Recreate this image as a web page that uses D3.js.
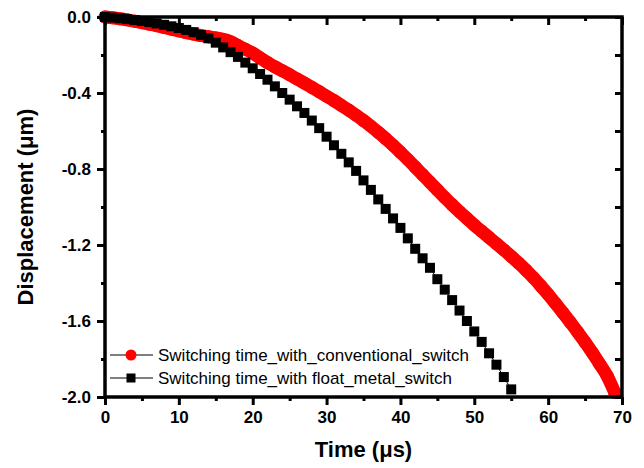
<!DOCTYPE html>
<meta charset="utf-8">
<style>
body { margin: 0; background: #fff; }
text { font-family: Arial, "Liberation Sans", sans-serif; fill: #000; }
.tick-label { font-size: 17px; font-weight: bold; }
.axis-title { font-size: 22px; font-weight: bold; }
.legend text { font-size: 17px; }
</style>
<svg id="chart" width="644" height="468"></svg>
<script src="https://d3js.org/d3.v7.min.js"></script>
<script>

// time in microseconds
var timeConv  = d3.range(0, 70);   // 0..69
var timeFloat = d3.range(0, 56);   // 0..55

// displacement (um)
var dispConv = [
  0, -0.004, -0.009, -0.015, -0.022, -0.03, -0.038, -0.046, -0.055, -0.064,
  -0.073, -0.082, -0.09, -0.098, -0.104, -0.11, -0.118, -0.13, -0.15, -0.17,
  -0.19, -0.215, -0.24, -0.262, -0.283, -0.304, -0.326, -0.348, -0.37, -0.393,
  -0.417, -0.44, -0.465, -0.49, -0.517, -0.545, -0.575, -0.607, -0.64, -0.675,
  -0.712, -0.75, -0.79, -0.83, -0.87, -0.91, -0.95, -0.988, -1.025, -1.06,
  -1.095, -1.128, -1.16, -1.193, -1.226, -1.26, -1.295, -1.332, -1.372, -1.415,
  -1.46, -1.508, -1.557, -1.607, -1.658, -1.712, -1.768, -1.828, -1.89, -1.975
];
var dispFloat = [
  0, -0.003, -0.007, -0.011, -0.016, -0.021, -0.027, -0.034, -0.041, -0.049,
  -0.058, -0.068, -0.08, -0.095, -0.112, -0.135, -0.16, -0.185, -0.21, -0.24,
  -0.27, -0.3, -0.33, -0.365, -0.4, -0.435, -0.47, -0.505, -0.545, -0.585,
  -0.63, -0.675, -0.72, -0.765, -0.81, -0.86, -0.91, -0.96, -1.01, -1.06,
  -1.11, -1.165, -1.22, -1.27, -1.32, -1.38, -1.435, -1.49, -1.545, -1.6,
  -1.655, -1.71, -1.77, -1.83, -1.895, -1.96
];

var xTicks = [0, 10, 20, 30, 40, 50, 60, 70];
var yTicks = [0, -0.4, -0.8, -1.2, -1.6, -2.0];
var legendLabels = ["Switching time_with_conventional_switch", "Switching time_with float_metal_switch"];

var svg = d3.select("#chart"),
    pL = 105, pR = 622, pT = 17, pB = 397;

var x = d3.scaleLinear().domain([0, 70]).range([pL, pR]);
var y = d3.scaleLinear().domain([0, -2]).range([pT, pB]);

var conv = timeConv.map(function(t, i) { return [t, dispConv[i]]; });
var flt = timeFloat.map(function(t, i) { return [t, dispFloat[i]]; });

var line = d3.line()
    .x(function(d) { return x(d[0]); })
    .y(function(d) { return y(d[1]); });

var plot = svg.append("g");

// conventional switch: dense red circles
plot.append("path")
    .datum(conv)
    .attr("d", line.curve(d3.curveMonotoneX))
    .attr("fill", "none")
    .attr("stroke", "#ff0000")
    .attr("stroke-width", 13)
    .attr("stroke-linejoin", "round")
    .attr("stroke-linecap", "round");
line.curve(d3.curveLinear);

plot.selectAll(".c")
    .data(conv)
  .enter().append("circle")
    .attr("cx", function(d) { return x(d[0]); })
    .attr("cy", function(d) { return y(d[1]); })
    .attr("r", 6.5)
    .attr("fill", "#ff0000");

// float metal switch: black squares
plot.append("path")
    .datum(flt)
    .attr("d", line)
    .attr("fill", "none")
    .attr("stroke", "#000")
    .attr("stroke-width", 1);

plot.selectAll(".s")
    .data(flt)
  .enter().append("rect")
    .attr("x", function(d) { return x(d[0]) - 5; })
    .attr("y", function(d) { return y(d[1]) - 5; })
    .attr("width", 10)
    .attr("height", 10)
    .attr("fill", "#000");

// axes
var fmt = function(d) { return d.toFixed(1); };

var xAxis = svg.append("g")
    .attr("transform", "translate(0," + pB + ")")
    .call(d3.axisBottom(x).tickValues(xTicks).tickSize(8).tickPadding(6));
xAxis.selectAll(".tick text").attr("class", "tick-label");

svg.append("g")
    .attr("transform", "translate(0," + pB + ")")
    .call(d3.axisBottom(x).tickValues(d3.range(5, 70, 10)).tickSize(4).tickFormat(""));

var yAxis = svg.append("g")
    .attr("transform", "translate(" + pL + ",0)")
    .call(d3.axisLeft(y).tickValues(yTicks).tickSize(8).tickPadding(6).tickFormat(fmt));
yAxis.selectAll(".tick text").attr("class", "tick-label");

svg.append("g")
    .attr("transform", "translate(" + pL + ",0)")
    .call(d3.axisLeft(y).tickValues([-0.2, -0.6, -1.0, -1.4, -1.8]).tickSize(4).tickFormat(""));

// mirrored axes, ticks inward
svg.append("g")
    .attr("transform", "translate(0," + pT + ")")
    .call(d3.axisBottom(x).tickValues(xTicks).tickSize(8).tickFormat(""));
svg.append("g")
    .attr("transform", "translate(0," + pT + ")")
    .call(d3.axisBottom(x).tickValues(d3.range(5, 70, 10)).tickSize(4).tickFormat(""));
svg.append("g")
    .attr("transform", "translate(" + pR + ",0)")
    .call(d3.axisLeft(y).tickValues(d3.range(0, -2.01, -0.2)).tickSize(7).tickFormat(""));

svg.selectAll(".tick line")
    .attr("stroke", "#000")
    .attr("stroke-width", 3);
svg.selectAll(".tick text")
    .attr("font-family", null)
    .attr("font-size", null);

// frame outline (domain paths include tick-size caps, redraw plain box)
svg.selectAll(".domain").remove();
svg.append("rect")
    .attr("x", pL)
    .attr("y", pT)
    .attr("width", pR - pL)
    .attr("height", pB - pT)
    .attr("fill", "none")
    .attr("stroke", "#000")
    .attr("stroke-width", 3.5);

// axis titles
svg.append("text")
    .attr("class", "axis-title")
    .attr("x", (pL + pR) / 2)
    .attr("y", 457)
    .attr("text-anchor", "middle")
    .text("Time (\u03bcs)");

svg.append("text")
    .attr("class", "axis-title")
    .attr("transform", "translate(33," + (pT + pB) / 2 + ") rotate(-90)")
    .attr("text-anchor", "middle")
    .text("Displacement (\u03bcm)");

// legend
var legend = svg.append("g").attr("class", "legend");
var rows = legend.selectAll("g")
    .data(legendLabels)
  .enter().append("g")
    .attr("transform", function(d, i) { return "translate(0," + (355 + i * 23) + ")"; });

rows.append("line")
    .attr("x1", 110).attr("x2", 153)
    .attr("stroke", "#000")
    .attr("stroke-width", 1);

rows.filter(function(d, i) { return i === 0; }).append("circle")
    .attr("cx", 131).attr("r", 5.5)
    .attr("fill", "#ff0000");

rows.filter(function(d, i) { return i === 1; }).append("rect")
    .attr("x", 126.5).attr("y", -4.5)
    .attr("width", 9).attr("height", 9)
    .attr("fill", "#000");

rows.append("text")
    .attr("x", 158)
    .attr("dy", "0.35em")
    .text(function(d) { return d; });

</script>
